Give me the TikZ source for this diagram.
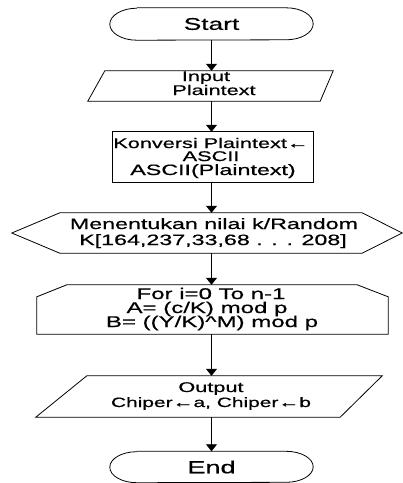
\documentclass[tikz,border=0pt]{standalone}
\usepackage{fontspec}
\setmainfont{Liberation Sans}[FakeStretch=1.55,FakeBold=0.6]
\usetikzlibrary{arrows.meta,calc}

\begin{document}
\begin{tikzpicture}[x=1pt,y=-1pt,
  outline/.style={draw=black,line width=0.8pt},
  slot/.style={draw=none,inner sep=0pt,minimum width=#1},
  txt/.style={inner sep=0pt,anchor=base,font=\fontsize{14}{14}\selectfont},
  looptxt/.style={txt,font=\fontsize{15.5}{15.5}\selectfont},
  flow/.style={draw=black,line width=0.8pt,-{Triangle[width=11pt,length=7pt]}}]
\useasboundingbox (0,0) rectangle (403,483);

% frames of the flowchart symbols
\node[slot=203pt,minimum height=32pt,font=\fontsize{17}{17}\selectfont] (start) at (211.5,24) {Start};
\node[slot=245pt,minimum height=30pt] (inp)   at (210.5,86)  {};
\node[slot=200pt,minimum height=50pt] (konv)  at (213,157)   {};
\node[slot=390pt,minimum height=40pt] (rand)  at (207,233)   {};
\node[slot=351pt,minimum height=49pt] (loop)  at (212.5,309.5) {};
\node[slot=346pt,minimum height=41pt] (outp)  at (209,396.5) {};
\node[slot=203pt,minimum height=31pt,font=\fontsize{17.5}{17.5}\selectfont] (end) at (211.5,467) {End};

% terminators
\draw[outline] ($(start.north west)+(27,0)$) -- ($(start.north east)+(-27,0)$)
  arc[start angle=-90,end angle=90,x radius=27,y radius=16]
  -- ($(start.south west)+(27,0)$)
  arc[start angle=90,end angle=270,x radius=27,y radius=16];
\draw[outline] ($(end.north west)+(27,0)$) -- ($(end.north east)+(-27,0)$)
  arc[start angle=-90,end angle=90,x radius=27,y radius=15.5]
  -- ($(end.south west)+(27,0)$)
  arc[start angle=90,end angle=270,x radius=27,y radius=15.5];

% input parallelogram
\draw[outline] ($(inp.north west)+(17,0)$) -- (inp.north east)
  -- ($(inp.south east)+(-13,0)$) -- (inp.south west) -- cycle;

% process box
\draw[outline] (konv.north west) rectangle (konv.south east);

% preparation hexagon
\draw[outline] (rand.west) -- ($(rand.north west)+(48,0)$) -- ($(rand.north east)+(-40,0)$)
  -- (rand.east) -- ($(rand.south east)+(-40,0)$) -- ($(rand.south west)+(48,0)$) -- cycle;

% loop limit
\draw[outline] ($(loop.north west)+(30,0)$) -- ($(loop.north east)+(-31,0)$)
  -- ($(loop.north east)+(0,12)$) -- (loop.south east) -- (loop.south west)
  -- ($(loop.north west)+(0,12)$) -- cycle;

% output parallelogram
\draw[outline] ($(outp.north west)+(51,0)$) -- (outp.north east)
  -- ($(outp.south east)+(-42,0)$) -- (outp.south west) -- cycle;

% texts
\node[txt] (inp1) at (206,81) {Input};
\node[txt] (inp2) at (214,95) {Plaintext};
\node[txt] (konv1) at (211,148) {Konversi Plaintext←};
\node[txt] (konv2) at (211,161) {ASCII};
\node[txt,font=\fontsize{15}{15}\selectfont] (konv3) at (213,175) {ASCII(Plaintext)};
\node[txt,font=\fontsize{15}{15}\selectfont] (rand1) at (214,229) {Menentukan nilai k/Random};
\node[txt,font=\fontsize{15}{15}\selectfont] (rand2) at (213,245) {K[164,237,33,68 . . . 208]};
\node[looptxt] (loop1) at (211,299) {For i=0 To n-1};
\node[looptxt] (loop2) at (207,313) {A= (c/K) mod p};
\node[looptxt] (loop3) at (212,327) {B= ((Y/K)\textasciicircum M) mod p};
\node[txt] (outp1) at (211,392) {Output};
\node[txt,font=\fontsize{13.5}{13.5}\selectfont] (outp2) at (211,407) {Chiper←a, Chiper←b};

% connectors
\draw[flow] (start.south) -- (start.south |- inp.north);
\draw[flow] (inp.south -| start.south) -- (start.south |- konv.north);
\draw[flow] (konv.south -| start.south) -- (start.south |- rand.north);
\draw[flow] (rand.south -| start.south) -- (start.south |- loop.north);
\draw[flow] (loop.south -| start.south) -- (start.south |- outp.north);
\draw[flow] (outp.south -| start.south) -- (end.north);
\end{tikzpicture}
\end{document}
